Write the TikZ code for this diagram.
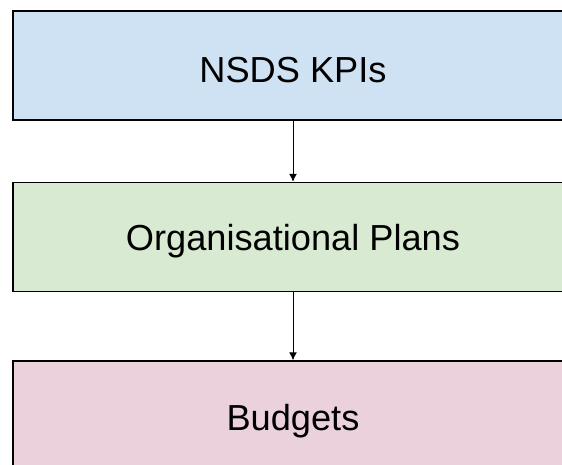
\documentclass[tikz,border=0pt]{standalone}
\usepackage{fontspec}
\setmainfont{Liberation Sans}
\usetikzlibrary{positioning,arrows.meta}
\definecolor{kpiblue}{HTML}{CFE2F3}
\definecolor{plangreen}{HTML}{D9EAD3}
\definecolor{budgetpink}{HTML}{EAD1DC}
\begin{document}
\begin{tikzpicture}[x=1pt, y=1pt, main/.style = {draw, line width=1.5pt, minimum width=560pt, minimum height=109pt, inner sep=0pt, text height=26pt, text depth=0pt, font=\fontsize{36.2}{43}\selectfont}]
    % Ritaglia la figura
    \clip (0,0) rectangle (562,-464);

    % Disegna i livelli
    \node[main, fill=kpiblue, text height=33pt] (kpi) at (293,-65.5) {NSDS KPIs};
    \node[main, fill=plangreen] (plans) [below=61pt of kpi] {Organisational Plans};
    \node[main, fill=budgetpink, text height=30pt] (budgets) [below=68pt of plans] {Budgets};

    % Disegna le frecce
    \draw[-{Latex[length=8pt,width=8pt]}, line width=1pt] (kpi) -- (plans);
    \draw[-{Latex[length=8pt,width=8pt]}, line width=1pt] (plans) -- (budgets);
\end{tikzpicture}
\end{document}
